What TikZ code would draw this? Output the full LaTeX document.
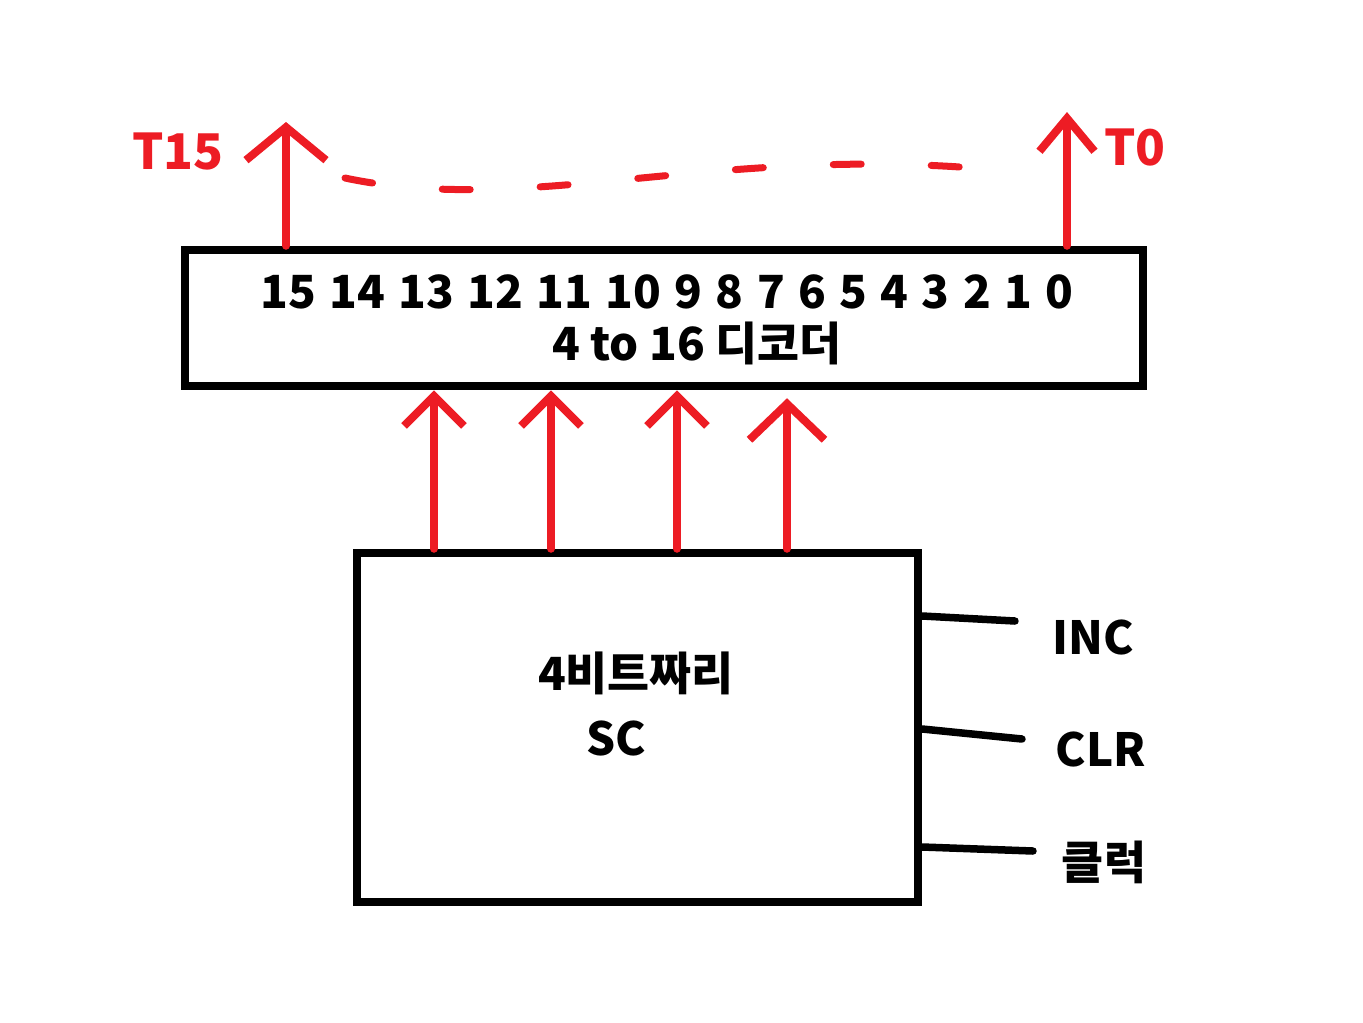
\documentclass[tikz,border=0pt]{standalone}
\usepackage{fontspec}
\setmainfont{Noto Sans CJK KR}
\usetikzlibrary{arrows.meta}
\usetikzlibrary{calc}

\definecolor{paintred}{RGB}{237,28,36}

\begin{document}
\begin{tikzpicture}[
    x=0.1mm, y=-0.1mm,
    >={Straight Barb[length=3mm, width=6mm]},
    box/.style = {
      draw, line width=0.85mm,
      inner sep=0pt,
    },
    sig/.style = {paintred, line width=0.8mm, line cap=round, ->},
    wire/.style = {black, line width=0.75mm, line cap=round},
    lbl/.style = {font=\fontsize{13}{15}\selectfont\bfseries, inner sep=0pt},
    redlbl/.style = {lbl, text=paintred, font=\fontsize{14}{16}\selectfont\bfseries},
  ]
  \useasboundingbox (0,0) rectangle (1363,1023);

  % 4 to 16 decoder
  \node[box, minimum width=95.8mm, minimum height=13.6mm] (dec) at (664,318) {};
  \node[lbl] (outs) at (667,292)
    {\spaceskip=3.8pt 15 14 13 12 11 10 9 8 7 6 5 4 3 2 1 0};
  \node[lbl] (decname) at (697,343) {4 to 16 디코더};

  % outputs T15 ... T0
  \coordinate (t15) at (286,122);
  \coordinate (t0) at (1067,112);
  \draw[sig, >={Straight Barb[length=3.3mm, width=8mm]}] (dec.north -| t15) -- (t15);
  \draw[sig, >={Straight Barb[length=3.3mm, width=5.5mm]}] (dec.north -| t0) -- (t0);
  \node[redlbl] (t15lbl) at (178,152) {T15};
  \node[redlbl] (t0lbl) at (1135,148) {T0};
  \draw[paintred, line width=0.7mm, line cap=round, dash pattern=on 2.8mm off 7mm]
    (345,178) .. controls (520,215) and (700,150) .. (960,167);

  % 4-bit sequence counter
  \node[box, minimum width=56.1mm, minimum height=34.9mm] (sc) at (637.5,727.5) {};
  \node[lbl] (scname) at (636,673) {4비트짜리};
  \node[lbl] (sclbl) at (616,738) {SC};

  % counter -> decoder inputs
  \coordinate (in1) at (434,0);
  \coordinate (in2) at (551,0);
  \coordinate (in3) at (677,0);
  \coordinate (in4) at (787,0);
  \draw[sig] (sc.north -| in1) -- (dec.south -| in1);
  \draw[sig] (sc.north -| in2) -- (dec.south -| in2);
  \draw[sig] (sc.north -| in3) -- (dec.south -| in3);
  \draw[sig, >={Straight Barb[length=3.6mm, width=7.5mm]}]
    (sc.north -| in4) -- ($(dec.south -| in4)+(0,8)$);

  % control inputs
  \coordinate (incEnd) at (1015,621);
  \coordinate (clrEnd) at (1022,739);
  \coordinate (clkEnd) at (1033,851);
  \draw[wire] (sc.east |- 0,616) -- (incEnd);
  \draw[wire] (sc.east |- 0,729) -- (clrEnd);
  \draw[wire] (sc.east |- 0,847) -- (clkEnd);
  \node[lbl] (inc) at (1093,637) {INC};
  \node[lbl] (clr) at (1101,749) {CLR};
  \node[lbl] (clk) at (1104,862) {클럭};
\end{tikzpicture}
\end{document}
